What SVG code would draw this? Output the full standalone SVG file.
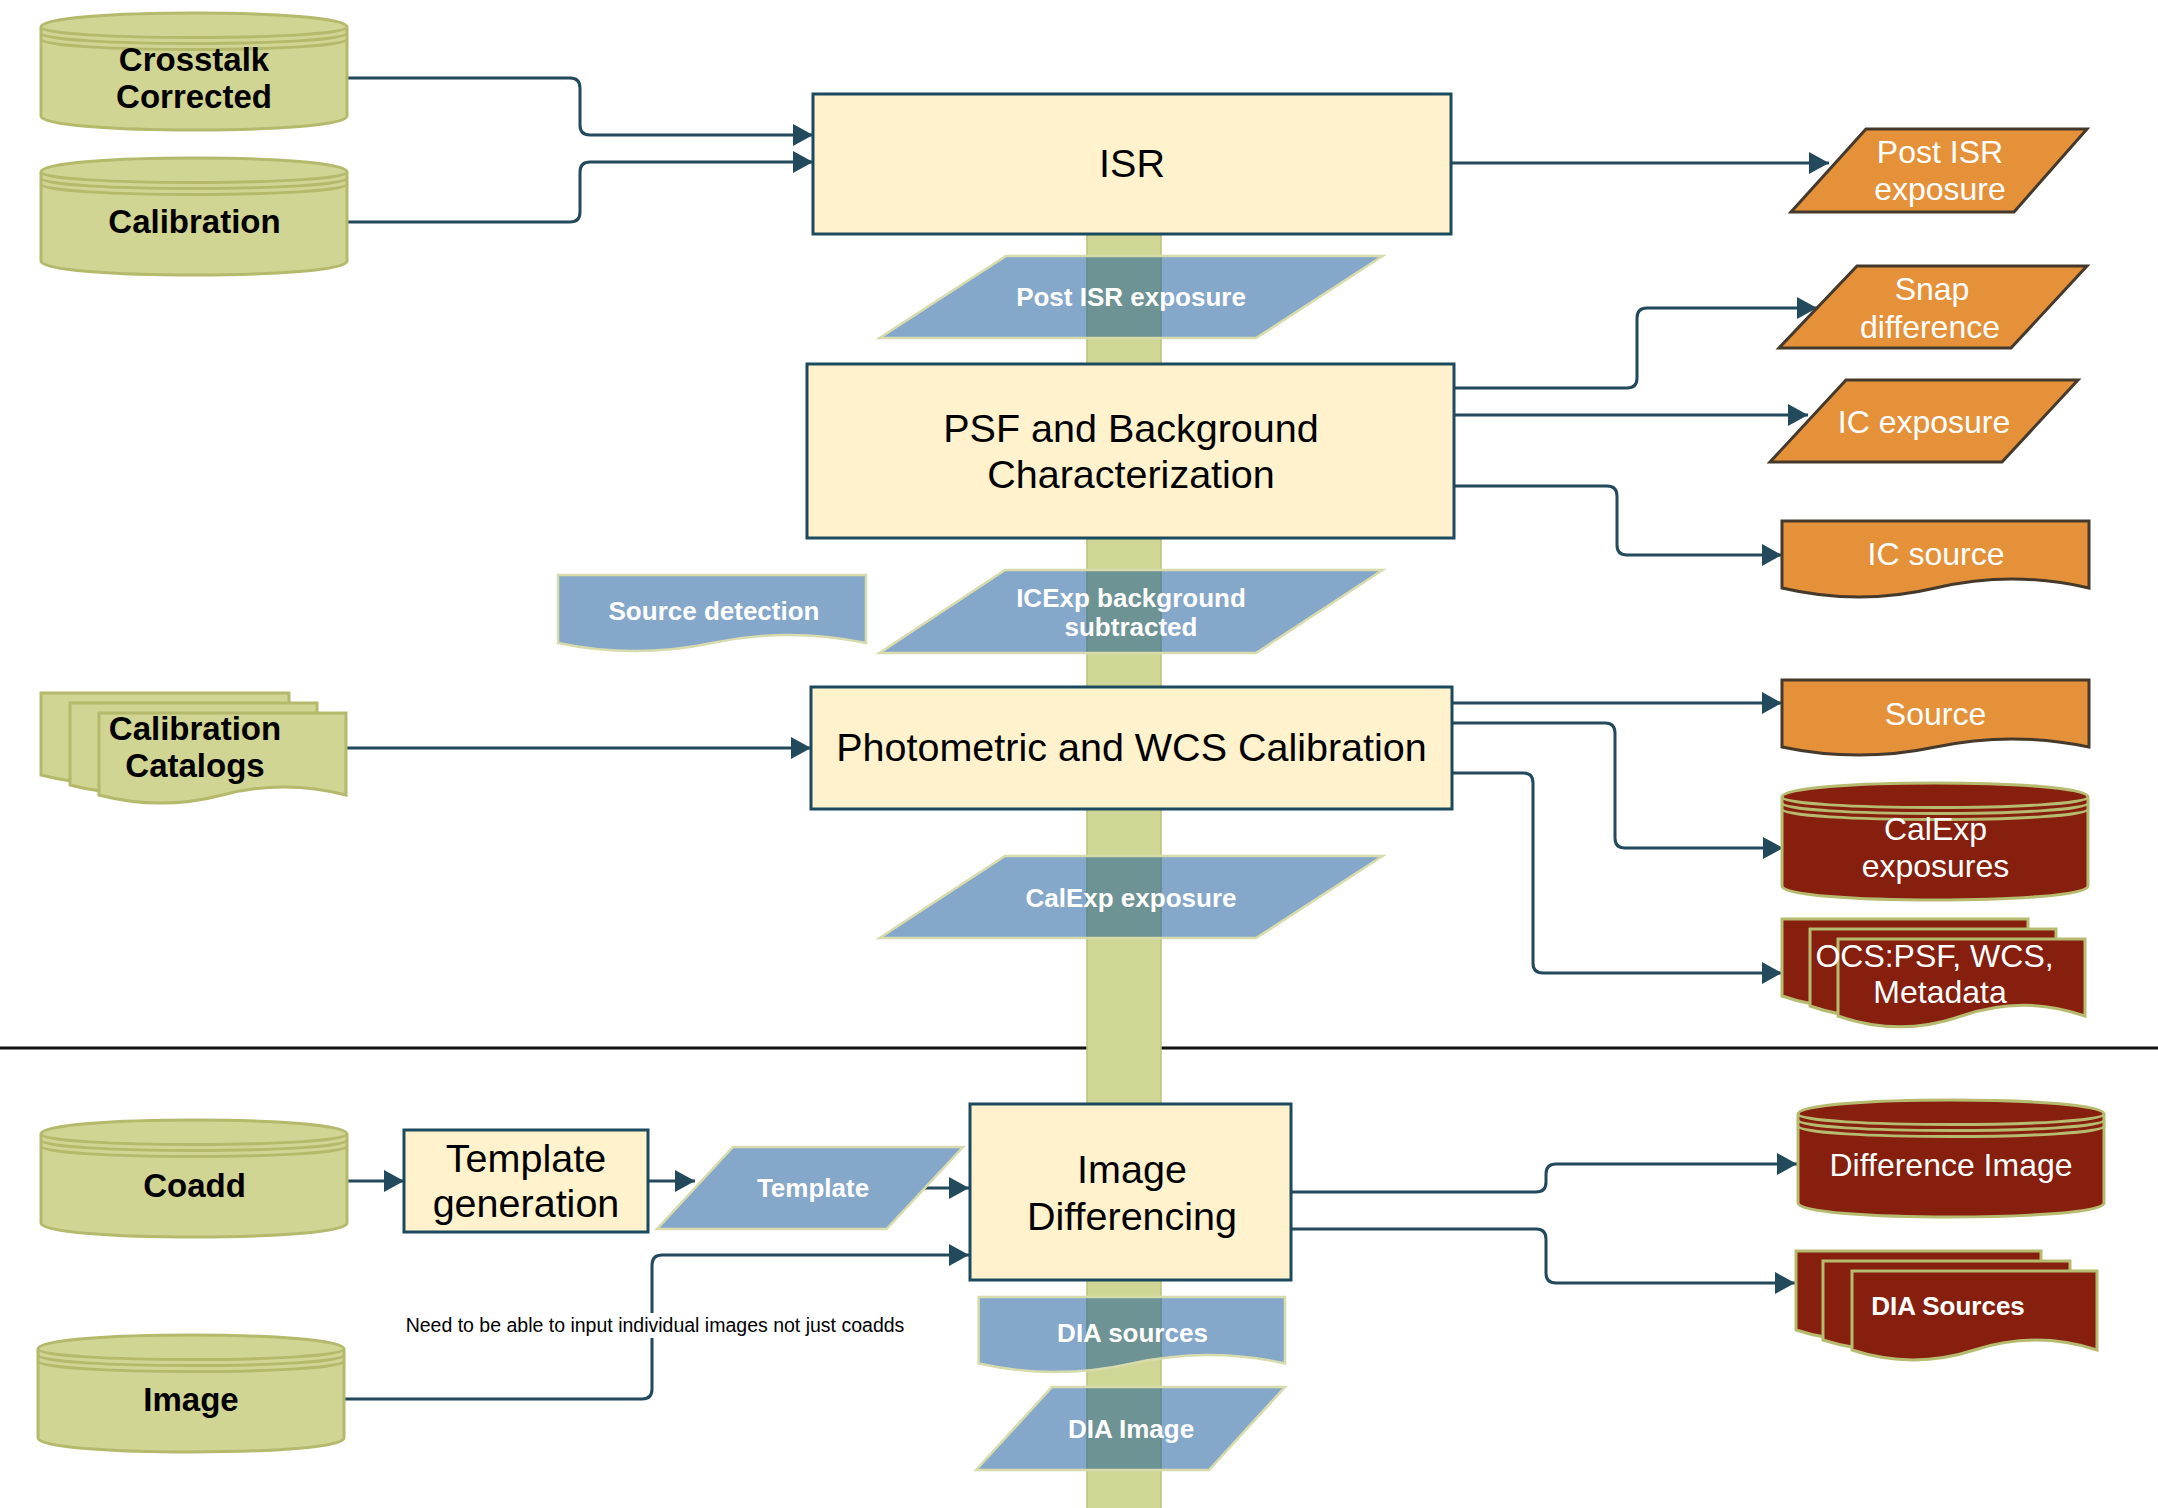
<svg xmlns="http://www.w3.org/2000/svg" width="2158" height="1508" viewBox="0 0 2158 1508">
<style>
text{font-family:"Liberation Sans",Arial,Helvetica,sans-serif;text-anchor:middle;stroke:none}
.olive{fill:#d0d594;stroke:#b4b96b;stroke-width:3}
.red{fill:#861f0e;stroke:#b6bb6f;stroke-width:3}
.orange{fill:#e5913a;stroke:#45392c;stroke-width:3}
.blue{fill:#0b5096;fill-opacity:0.5;stroke:#d8dbab;stroke-width:2.5}
.proc{fill:#fff2cc;stroke:#1b4a5e;stroke-width:3}
.band{fill:#d0d695;stroke:#bcc27c;stroke-width:1.5}
.lbl-dark{font-weight:bold;font-size:33px;fill:#000}
.lbl-proc{font-size:39.5px;fill:#000}
.lbl-white{font-size:32px;fill:#fff}
.lbl-blue{font-weight:bold;font-size:26px;fill:#fff}
.conn path{fill:none;stroke:#23495d;stroke-width:3;marker-end:url(#arr)}
.cyl-lines{fill:none}
</style>
<defs>
<marker id="arr" markerUnits="userSpaceOnUse" viewBox="0 0 20 22" markerWidth="20" markerHeight="22" refX="20" refY="11" orient="auto">
<path d="M0,0 L20,11 L0,22 Z" fill="#23495d"/>
</marker>
<g id="cylShape">
<path d="M0,14 C0,-4.67 306,-4.67 306,14 L306,103 C306,121.67 0,121.67 0,103 Z"/>
<path class="cyl-lines" d="M0,14 C0,28 306,28 306,14 M0,20 C0,34 306,34 306,20 M0,26 C0,40 306,40 306,26"/>
</g>
</defs>
<rect width="2158" height="1508" fill="#fff"/>
<path d="M0,1048 H2158" stroke="#111" stroke-width="3" fill="none"/>
<rect class="band" x="1087" y="200" width="74" height="1310"/>

<g class="conn">
<path d="M347,78 H570 Q580,78 580,88 V125 Q580,135 590,135 H813"/>
<path d="M347,222 H570 Q580,222 580,212 V172 Q580,162 590,162 H813"/>
<path d="M1451,163 H1829"/>
<path d="M1454,388 H1627 Q1637,388 1637,378 V318 Q1637,308 1647,308 H1817"/>
<path d="M1454,415 H1808"/>
<path d="M1454,486 H1607 Q1617,486 1617,496 V545 Q1617,555 1627,555 H1782"/>
<path d="M346,748 H811"/>
<path d="M1452,703 H1782"/>
<path d="M1452,723 H1605 Q1615,723 1615,733 V838 Q1615,848 1625,848 H1783"/>
<path d="M1452,773 H1523 Q1533,773 1533,783 V963 Q1533,973 1543,973 H1782"/>
<path d="M346,1181 H404"/>
<path d="M648,1181 H695"/>
<path d="M925,1188 H969"/>
<path d="M345,1399 H642 Q652,1399 652,1389 V1265 Q652,1255 662,1255 H969"/>
<path d="M1291,1192 H1536 Q1546,1192 1546,1182 V1174 Q1546,1164 1556,1164 H1797"/>
<path d="M1291,1229 H1536 Q1546,1229 1546,1239 V1273 Q1546,1283 1556,1283 H1795"/>
</g>

<g id="note">
<rect x="398" y="1313" width="514" height="25" fill="#fff"/>
<text x="655" y="1332" font-size="19.5">Need to be able to input individual images not just coadds</text>
</g>

<g id="crosstalk-corrected" class="olive">
<use href="#cylShape" x="41" y="13"/>
<text class="lbl-dark" x="194" y="71">Crosstalk</text>
<text class="lbl-dark" x="194" y="108">Corrected</text>
</g>
<g id="calibration" class="olive">
<use href="#cylShape" x="41" y="158"/>
<text class="lbl-dark" x="194.5" y="233">Calibration</text>
</g>
<g id="calibration-catalogs" class="olive">
<path d="M41,693 H289 V775 Q227,758.8 165,775 Q103,791.2 41,775 Z"/>
<path d="M70,703 H317 V785 Q255.25,768.8 193.5,785 Q131.75,801.2 70,785 Z"/>
<path d="M99,713 H346 V795 Q284.25,778.8 222.5,795 Q160.75,811.2 99,795 Z"/>
<text class="lbl-dark" x="195" y="740">Calibration</text>
<text class="lbl-dark" x="195" y="777">Catalogs</text>
</g>
<g id="coadd" class="olive">
<use href="#cylShape" x="41" y="1120"/>
<text class="lbl-dark" x="194.5" y="1197">Coadd</text>
</g>
<g id="image" class="olive">
<use href="#cylShape" x="38" y="1335"/>
<text class="lbl-dark" x="191" y="1411">Image</text>
</g>

<g id="isr">
<rect class="proc" x="813" y="94" width="638" height="140"/>
<text class="lbl-proc" x="1132" y="177">ISR</text>
</g>
<g id="psf">
<rect class="proc" x="807" y="364" width="647" height="174"/>
<text class="lbl-proc" x="1131" y="442">PSF and Background</text>
<text class="lbl-proc" x="1131" y="488">Characterization</text>
</g>
<g id="photometric">
<rect class="proc" x="811" y="687" width="641" height="122"/>
<text class="lbl-proc" x="1131.5" y="761">Photometric and WCS Calibration</text>
</g>
<g id="template-generation">
<rect class="proc" x="404" y="1130" width="244" height="102"/>
<text class="lbl-proc" x="526" y="1172">Template</text>
<text class="lbl-proc" x="526" y="1217">generation</text>
</g>
<g id="image-differencing">
<rect class="proc" x="970" y="1104" width="321" height="176"/>
<text class="lbl-proc" x="1132" y="1183">Image</text>
<text class="lbl-proc" x="1132" y="1230">Differencing</text>
</g>

<g id="post-isr-exposure-flow">
<path class="blue" d="M1006,256 H1382.6 L1256,338 H879.5 Z"/>
<text class="lbl-blue" x="1131" y="306">Post ISR exposure</text>
</g>
<g id="source-detection">
<path class="blue" d="M558,575 H866 V643 Q789,626.8 712,643 Q635,659.2 558,643 Z"/>
<text class="lbl-blue" x="714" y="620">Source detection</text>
</g>
<g id="icexp-background">
<path class="blue" d="M1005,570 H1382.6 L1256,653 H879.5 Z"/>
<text class="lbl-blue" x="1131" y="607">ICExp background</text>
<text class="lbl-blue" x="1131" y="636">subtracted</text>
</g>
<g id="calexp-exposure-flow">
<path class="blue" d="M1005,856 H1382.6 L1256,938 H879.5 Z"/>
<text class="lbl-blue" x="1131" y="907">CalExp exposure</text>
</g>
<g id="template">
<path class="blue" d="M733,1147 H963 L886.5,1229 H657 Z"/>
<text class="lbl-blue" x="813" y="1197">Template</text>
</g>
<g id="dia-sources-flow">
<path class="blue" d="M978.6,1297 H1285 V1363.5 Q1208.4,1346.4 1131.8,1363.5 Q1055.2,1380.6 978.6,1363.5 Z"/>
<text class="lbl-blue" x="1132.5" y="1342">DIA sources</text>
</g>
<g id="dia-image">
<path class="blue" d="M1052,1387 H1285 L1209,1470 H976 Z"/>
<text class="lbl-blue" x="1131" y="1438">DIA Image</text>
</g>

<g id="post-isr-exposure">
<path class="orange" d="M1866,129 H2087 L2014,212 H1791 Z"/>
<text class="lbl-white" x="1940" y="163">Post ISR</text>
<text class="lbl-white" x="1940" y="200">exposure</text>
</g>
<g id="snap-difference">
<path class="orange" d="M1857,266 H2087 L2011,348 H1779 Z"/>
<text class="lbl-white" x="1932" y="300">Snap</text>
<text class="lbl-white" x="1930" y="338">difference</text>
</g>
<g id="ic-exposure">
<path class="orange" d="M1846,380 H2078 L2002,462 H1770 Z"/>
<text class="lbl-white" x="1924" y="433">IC exposure</text>
</g>
<g id="ic-source">
<path class="orange" d="M1782,521 H2089 V588 Q2012,570 1935.5,588 Q1858.75,606 1782,588 Z"/>
<text class="lbl-white" x="1936" y="565">IC source</text>
</g>
<g id="source">
<path class="orange" d="M1782,680 H2089 V747 Q2012,730.8 1935.5,747 Q1858.75,763.2 1782,747 Z"/>
<text class="lbl-white" x="1935.5" y="725">Source</text>
</g>

<g id="calexp-exposures" class="red">
<use href="#cylShape" x="1782" y="783"/>
<text class="lbl-white" x="1935.5" y="840">CalExp</text>
<text class="lbl-white" x="1935.5" y="877">exposures</text>
</g>
<g id="ocs" class="red">
<path d="M1782,919 H2028 V996 Q1966.5,974.4 1905,996 Q1843.5,1017.6 1782,996 Z"/>
<path d="M1810,929 H2056 V1006 Q1994.5,984.4 1933,1006 Q1871.5,1027.6 1810,1006 Z"/>
<path d="M1838,939 H2085 V1016 Q2023.25,994.4 1961.5,1016 Q1899.75,1037.6 1838,1016 Z"/>
<text class="lbl-white" x="1934.5" y="967">OCS:PSF, WCS,</text>
<text class="lbl-white" x="1940" y="1003">Metadata</text>
</g>
<g id="difference-image" class="red">
<use href="#cylShape" x="1798" y="1100"/>
<text class="lbl-white" x="1951" y="1176">Difference Image</text>
</g>
<g id="dia-sources" class="red">
<path d="M1796,1251 H2041 V1330 Q1979.75,1310.2 1918.5,1330 Q1857.25,1349.8 1796,1330 Z"/>
<path d="M1823,1261 H2070 V1340 Q2008.25,1320.2 1946.5,1340 Q1884.75,1359.8 1823,1340 Z"/>
<path d="M1852,1271 H2097 V1350 Q2035.75,1330.2 1974.5,1350 Q1913.25,1369.8 1852,1350 Z"/>
<text class="lbl-blue" x="1948" y="1315">DIA Sources</text>
</g>
</svg>
